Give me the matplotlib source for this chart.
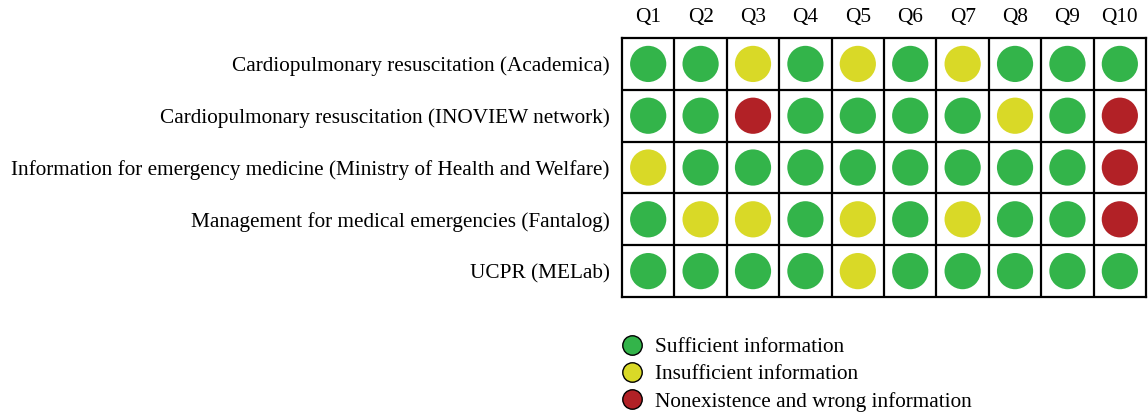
import matplotlib
matplotlib.use("Agg")
import matplotlib.pyplot as plt
from matplotlib.lines import Line2D

APPS = [
    "Cardiopulmonary resuscitation (Academica)",
    "Cardiopulmonary resuscitation (INOVIEW network)",
    "Information for emergency medicine (Ministry of Health and Welfare)",
    "Management for medical emergencies (Fantalog)",
    "UCPR (MELab)",
]
QUESTIONS = ["Q1", "Q2", "Q3", "Q4", "Q5", "Q6", "Q7", "Q8", "Q9", "Q10"]
# 0 = sufficient, 1 = insufficient, 2 = nonexistence / wrong
RATINGS = [
    [0, 0, 1, 0, 1, 0, 1, 0, 0, 0],
    [0, 0, 2, 0, 0, 0, 0, 1, 0, 2],
    [1, 0, 0, 0, 0, 0, 0, 0, 0, 2],
    [0, 1, 1, 0, 1, 0, 1, 0, 0, 2],
    [0, 0, 0, 0, 1, 0, 0, 0, 0, 0],
]
LEGEND_LABELS = ["Sufficient information", "Insufficient information",
                 "Nonexistence and wrong information"]

GREEN = "#33b44a"
YELLOW = "#d9d927"
RED = "#b22126"
COLORS = [GREEN, YELLOW, RED]
FS = 15.3

plt.rcParams["font.family"] = ["Liberation Serif", "DejaVu Serif"]

fig = plt.figure(figsize=(11.48, 4.12), dpi=100)
ax = fig.add_axes([0.5418, 0.2791, 0.4565, 0.6286])
ax.set_xlim(0, len(QUESTIONS))
ax.set_ylim(len(APPS), 0)

for r, row in enumerate(RATINGS):
    xs = [c + 0.5 for c in range(len(row))]
    ys = [r + 0.5] * len(row)
    ax.scatter(xs, ys, s=680, c=[COLORS[v] for v in row], linewidths=0, zorder=3)

for i in range(1, len(QUESTIONS)):
    ax.axvline(i, color="black", lw=1.6, zorder=2)
for i in range(1, len(APPS)):
    ax.axhline(i, color="black", lw=1.6, zorder=2)
for sp in ax.spines.values():
    sp.set_linewidth(1.6)
    sp.set_color("black")

ax.set_xticks([c + 0.5 for c in range(len(QUESTIONS))])
ax.set_xticklabels(QUESTIONS, fontsize=FS)
ax.xaxis.tick_top()
ax.set_yticks([r + 0.5 for r in range(len(APPS))])
ax.set_yticklabels(APPS, fontsize=FS)
ax.tick_params(length=0, pad=9)
ax.tick_params(axis="x", pad=8)

handles = [Line2D([], [], marker="o", ls="none", markersize=14,
                  markerfacecolor=c, markeredgecolor="black", markeredgewidth=1.0)
           for c in COLORS]
fig.legend(handles, LEGEND_LABELS, loc="upper left", bbox_to_anchor=(0.533, 0.2015),
           frameon=False, fontsize=FS, handletextpad=0.55, labelspacing=0.34,
           handlelength=1.1, borderaxespad=0)

fig.savefig("out.png", dpi=100)
